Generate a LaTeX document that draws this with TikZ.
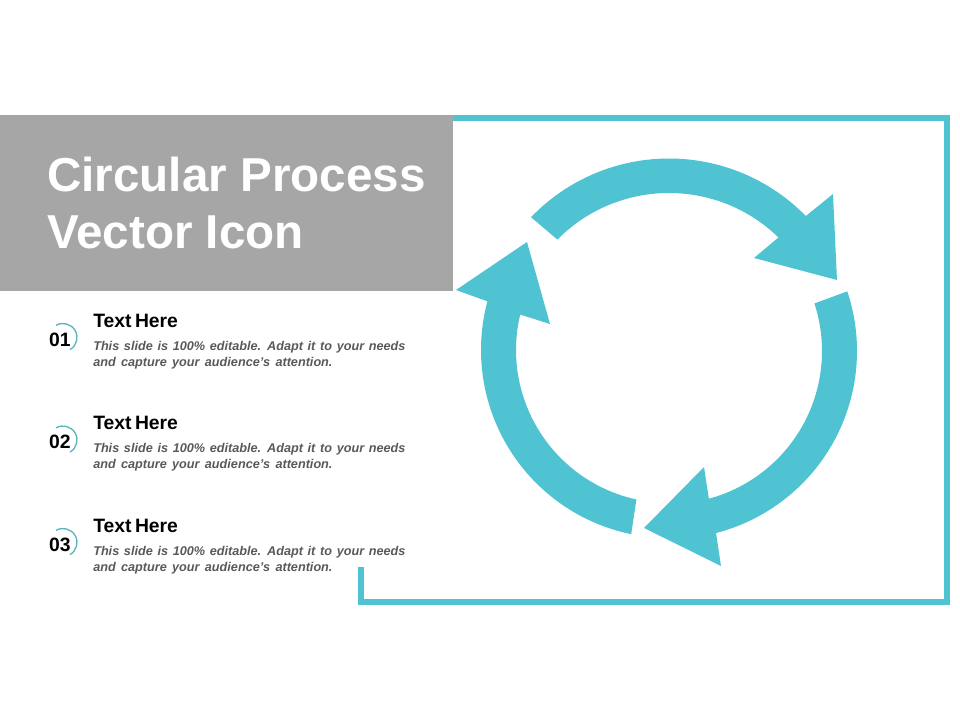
\documentclass[tikz,border=0pt]{standalone}
\usepackage{fontspec}
\setmainfont{Liberation Sans}
\definecolor{ringteal}{HTML}{50C3D3}
\definecolor{bandgrey}{HTML}{A6A6A6}
\definecolor{bodygrey}{HTML}{595959}
\newcommand{\bodyfont}{\fontsize{9.5}{12}\selectfont\bfseries\itshape}
\newcommand{\bodyline}[2]{{\bodyfont\spaceskip=#1em\relax #2}}
\tikzset{
  titletext/.style={anchor=base west,inner sep=0pt,text=white,font=\fontsize{35.7}{40}\selectfont\bfseries},
  headtext/.style={anchor=base west,inner sep=0pt,font=\fontsize{14.5}{16}\selectfont\bfseries},
  bodytext/.style={anchor=base west,inner sep=0pt,text=bodygrey},
  numtext/.style={anchor=base,inner sep=0pt,font=\fontsize{14.5}{16}\selectfont\bfseries},
}
\begin{document}
\begin{tikzpicture}[x=0.75pt,y=-0.75pt]
                \useasboundingbox (0,0) rectangle (960,720);
                \fill[bandgrey] (0,115) rectangle (453,291);
                \node[titletext] (title1) at (47,192) {Circular Process};
                \node[titletext] (title2) at (47,249) {Vector Icon};
                %% Frame
                \draw[ringteal,line width=4.5pt] (453,118) -- (947,118) -- (947,602) -- (361,602) -- (361,567);
                %% Rows
                \foreach \n/\dy in {1/0,2/102.5,3/205} {
                    \draw[ringteal!75!gray,line width=1pt] (63,337.5+\dy) ++(-120:14) arc[start angle=-120,end angle=60,radius=14];
                    \node[numtext] (num\n) at (60,346+\dy) {0\n};
                    \node[headtext] (head\n) at (93,327+\dy) {Text\kern-0.1em\ Here};
                    \node[bodytext] (bodya\n) at (93,350+\dy) {\bodyline{0.37}{This slide is 100\% editable. Adapt it to your needs}};
                    \node[bodytext] (bodyb\n) at (93,366+\dy) {\bodyline{0.42}{and capture your audience's attention.}};
                }
                %% Arrows
                \begin{scope}[shift={(669,350)},y=0.75pt]
                    \fill[ringteal] (136.1:191.5) arc[start angle=136.1,end angle=44.4,radius=191.5] -- (164,156) -- (168,70) -- (85,92) -- (45.8:157) arc[start angle=45.8,end angle=135.3,radius=157] -- cycle;
                \end{scope}
                \begin{scope}[shift={(669,351)},y=0.75pt]
                    \fill[ringteal] (18.5:188) arc[start angle=18.5,end angle=-75.5,radius=188] -- (52,-215) -- (-25,-177) -- (35,-116) -- (-74.9:153) arc[start angle=-74.9,end angle=18.1,radius=153] -- cycle;
                \end{scope}
                \begin{scope}[shift={(669,350)},y=0.75pt]
                    \fill[ringteal] (258.4:188) arc[start angle=258.4,end angle=165,radius=188] -- (-213,60) -- (-142,108) -- (-119,26) -- (166.6:153) arc[start angle=166.6,end angle=257.7,radius=153] -- cycle;
                \end{scope}
            \end{tikzpicture}
\end{document}
